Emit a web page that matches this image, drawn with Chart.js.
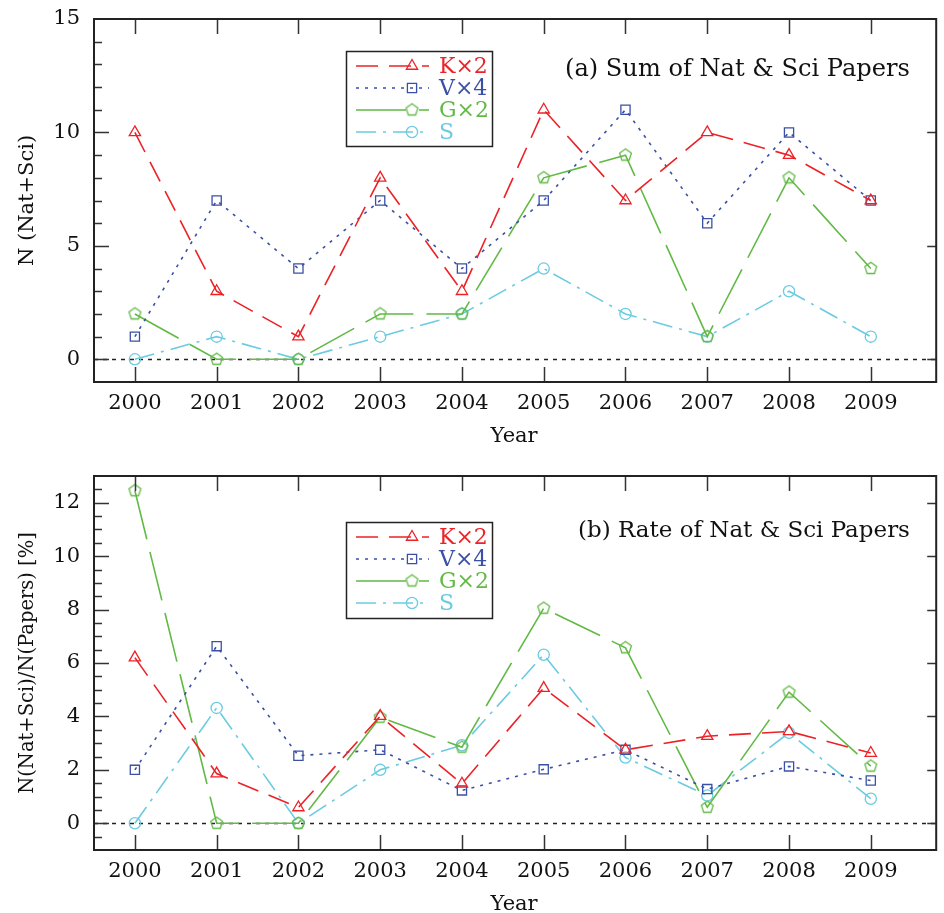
<!DOCTYPE html>
<html><head><meta charset="utf-8">
<script src="https://cdn.jsdelivr.net/npm/chart.js@4.4.1/dist/chart.umd.min.js"></script>
<style>html,body{margin:0;padding:0;background:#fff;}canvas{display:block;}</style>
</head><body>
<canvas id="c1" width="944" height="460"></canvas>
<canvas id="c2" width="944" height="453"></canvas>
<script>
// ---- data ----
const years = [2000, 2001, 2002, 2003, 2004, 2005, 2006, 2007, 2008, 2009];
const seriesNames = ['K\u00d72', 'V\u00d74', 'G\u00d72', 'S'];
const sumK = [10, 3, 1, 8, 3, 11, 7, 10, 9, 7];
const sumV = [1, 7, 4, 7, 4, 7, 11, 6, 10, 7];
const sumG = [2, 0, 0, 2, 2, 8, 9, 1, 8, 4];
const sumS = [0, 1, 0, 1, 2, 4, 2, 1, 3, 1];
const rateK = [6.2, 1.86, 0.59, 4.01, 1.48, 5.06, 2.75, 3.26, 3.44, 2.63];
const rateV = [2.0, 6.63, 2.53, 2.75, 1.23, 2.02, 2.75, 1.28, 2.13, 1.6];
const rateG = [12.45, 0, 0, 3.97, 2.85, 8.05, 6.57, 0.6, 4.91, 2.14];
const rateS = [0, 4.32, 0, 2.0, 2.92, 6.31, 2.46, 1.04, 3.39, 0.92];
const sumTicks = [0, 5, 10, 15];
const rateTicks = [0, 2, 4, 6, 8, 10, 12];

// ---- style ----
const FONT = '"DejaVu Serif", "Liberation Serif", serif';
const TXT = '#111';
const COLORS = ['#ec2227', '#3a4fa6', '#62b946', '#6bcbe0'];
const DASHES = [[22, 11], [3, 6], [50, 13], [20, 7, 3, 7]];
const STYLES = ['triangle', 'rect', 'pentagon', 'circle'];

function pentagonCanvas(color, r) {
  const c = document.createElement('canvas');
  const s = Math.ceil(2 * r + 4);
  c.width = s; c.height = s;
  const g = c.getContext('2d');
  g.strokeStyle = color; g.lineWidth = 1.3;
  g.beginPath();
  for (let i = 0; i < 5; i++) {
    const a = -Math.PI / 2 + i * 2 * Math.PI / 5;
    const px = s / 2 + r * Math.cos(a), py = s / 2 + r * Math.sin(a);
    if (i) g.lineTo(px, py); else g.moveTo(px, py);
  }
  g.closePath(); g.stroke();
  return c;
}
const penta = pentagonCanvas(COLORS[2], 6.2);

function pointStyleFor(i) { return STYLES[i] === 'pentagon' ? penta : STYLES[i]; }
const RADII = [6.5, 6.5, 6.2, 5.6];

function drawMarker(ctx, i, x, y) {
  ctx.save();
  ctx.setLineDash([]);
  ctx.strokeStyle = COLORS[i]; ctx.lineWidth = 1.3;
  const r = RADII[i];
  ctx.beginPath();
  if (STYLES[i] === 'triangle') {
    ctx.moveTo(x, y - r);
    ctx.lineTo(x + r * Math.sin(Math.PI * 2 / 3), y - r * Math.cos(Math.PI * 2 / 3));
    ctx.lineTo(x - r * Math.sin(Math.PI * 2 / 3), y - r * Math.cos(Math.PI * 2 / 3));
    ctx.closePath(); ctx.stroke();
  } else if (STYLES[i] === 'rect') {
    const s = r * Math.SQRT1_2;
    ctx.rect(x - s, y - s, 2 * s, 2 * s); ctx.stroke();
  } else if (STYLES[i] === 'circle') {
    ctx.arc(x, y, r, 0, Math.PI * 2); ctx.stroke();
  } else {
    ctx.drawImage(penta, x - penta.width / 2, y - penta.height / 2);
  }
  ctx.restore();
}

function makeDatasets(arrays) {
  return arrays.map((arr, i) => ({
    label: seriesNames[i],
    data: years.map((yr, j) => ({ x: yr, y: arr[j] })),
    borderColor: COLORS[i],
    borderWidth: 1.6,
    borderDash: DASHES[i],
    pointStyle: pointStyleFor(i),
    pointRadius: RADII[i],
    pointBorderColor: COLORS[i],
    pointBackgroundColor: 'rgba(0,0,0,0)',
    pointBorderWidth: 1.3,
    tension: 0,
    fill: false
  }));
}

const decor = {
  id: 'decor',
  beforeDatasetsDraw(chart) {
    const { ctx, chartArea: a, scales: { y } } = chart;
    ctx.save();
    ctx.strokeStyle = '#222'; ctx.lineWidth = 1.3; ctx.setLineDash([4, 5]);
    const y0 = Math.round(y.getPixelForValue(0)) + 0.5;
    ctx.beginPath(); ctx.moveTo(a.left, y0); ctx.lineTo(a.right, y0); ctx.stroke();
    ctx.restore();
  },
  afterDatasetsDraw(chart) {
    const o = chart.options.plugins.decor;
    const { ctx, chartArea: a, scales: { x, y } } = chart;
    ctx.save();
    ctx.setLineDash([]);
    ctx.strokeStyle = '#333'; ctx.lineWidth = 1.5;
    ctx.beginPath();
    const n = Math.round((y.max - y.min) / o.minor);
    for (let k = 0; k <= n; k++) {
      const v = y.min + k * o.minor;
      if (v <= y.min || v >= y.max) continue;
      const major = Math.abs(v / o.major - Math.round(v / o.major)) < 1e-6;
      const py = Math.round(y.getPixelForValue(v)) + 0.5;
      const len = major ? 15 : 8;
      ctx.moveTo(a.left, py); ctx.lineTo(a.left + len, py);
      if (major) { ctx.moveTo(a.right, py); ctx.lineTo(a.right - 9, py); }
    }
    years.forEach(yr => {
      const px = Math.round(x.getPixelForValue(yr)) + 0.5;
      ctx.moveTo(px, a.bottom); ctx.lineTo(px, a.bottom - 15);
      ctx.moveTo(px, a.top); ctx.lineTo(px, a.top + 15);
    });
    ctx.stroke();
    ctx.strokeStyle = '#222'; ctx.lineWidth = 2;
    ctx.strokeRect(a.left, a.top, a.right - a.left, a.bottom - a.top);
    ctx.restore();
  },
  afterDraw(chart) {
    const o = chart.options.plugins.decor;
    const { ctx, chartArea: a } = chart;
    ctx.save();
    ctx.fillStyle = TXT;
    ctx.font = '21px ' + FONT;
    ctx.textAlign = 'center'; ctx.textBaseline = 'middle';
    ctx.fillText('Year', (a.left + a.right) / 2 - 1, o.xTitleY);
    ctx.save();
    ctx.font = o.yTitleSize + 'px ' + FONT;
    ctx.translate(28, (a.top + a.bottom) / 2);
    ctx.rotate(-Math.PI / 2);
    ctx.fillText(o.yTitle, 0, 0);
    ctx.restore();
    let fs = 20;
    ctx.font = fs + 'px ' + FONT;
    fs = fs * o.titleW / ctx.measureText(o.title).width;
    ctx.font = fs.toFixed(2) + 'px ' + FONT;
    ctx.textAlign = 'left';
    ctx.fillText(o.title, o.titleX, o.titleY);
    const L = o.legend;
    ctx.strokeStyle = '#222'; ctx.lineWidth = 1.5;
    ctx.strokeRect(L.x + 0.5, L.y + 0.5, L.w, L.h);
    ctx.font = '22px ' + FONT;
    ctx.textAlign = 'left'; ctx.textBaseline = 'middle';
    seriesNames.forEach((name, i) => {
      const ry = L.y + L.first + i * L.step;
      ctx.save();
      ctx.strokeStyle = COLORS[i]; ctx.lineWidth = 1.6;
      ctx.setLineDash(DASHES[i]);
      ctx.beginPath(); ctx.moveTo(L.x + 10, ry); ctx.lineTo(L.x + 83, ry); ctx.stroke();
      ctx.restore();
      drawMarker(ctx, i, L.x + 66, ry);
      ctx.fillStyle = COLORS[i];
      ctx.fillText(name, L.x + 93, ry + 1);
    });
    ctx.restore();
  }
};

function makeChart(id, arrays, yMin, yMax, yTicks, cfg) {
  return new Chart(document.getElementById(id), {
    type: 'line',
    data: { datasets: makeDatasets(arrays) },
    options: {
      responsive: false, animation: false, devicePixelRatio: 1,
      layout: { padding: { left: 0, right: 1, top: cfg.top, bottom: 0 } },
      scales: {
        x: {
          type: 'linear', min: 1999.5, max: 2009.8,
          grid: { display: false, drawTicks: false }, border: { display: false },
          afterBuildTicks: s => { s.ticks = years.map(v => ({ value: v })); },
          afterFit: s => { s.height = cfg.xH; s.paddingLeft = 0; s.paddingRight = 0; },
          ticks: { color: TXT, font: { family: FONT, size: 21 }, padding: 9, maxRotation: 0,
                   callback: v => String(v) }
        },
        y: {
          type: 'linear', min: yMin, max: yMax,
          grid: { display: false, drawTicks: false }, border: { display: false },
          afterBuildTicks: s => { s.ticks = yTicks.map(v => ({ value: v })); },
          afterFit: s => { s.width = 94; s.paddingTop = 0; s.paddingBottom = 0; },
          ticks: { color: TXT, font: { family: FONT, size: 21 }, padding: 14,
                   callback: v => String(v) }
        }
      },
      plugins: {
        legend: { display: false }, tooltip: { enabled: false },
        decor: cfg.decor
      }
    },
    plugins: [decor]
  });
}

makeChart('c1', [sumK, sumV, sumG, sumS], -1, 15, sumTicks, {
  top: 19, xH: 78,
  decor: {
    minor: 1, major: 5, xTitleY: 437, yTitle: 'N (Nat+Sci)', yTitleSize: 21,
    title: '(a) Sum of Nat & Sci Papers', titleX: 565, titleY: 70, titleW: 345,
    legend: { x: 346, y: 51, w: 146, h: 95, first: 15, step: 22 }
  }
});
makeChart('c2', [rateK, rateV, rateG, rateS], -1, 13, rateTicks, {
  top: 16, xH: 63,
  decor: {
    minor: 0.5, major: 2, xTitleY: 445, yTitle: 'N(Nat+Sci)/N(Papers) [%]', yTitleSize: 19.5,
    title: '(b) Rate of Nat & Sci Papers', titleX: 578, titleY: 71, titleW: 332,
    legend: { x: 346, y: 62, w: 146, h: 96, first: 15, step: 22 }
  }
});
</script>
</body></html>
